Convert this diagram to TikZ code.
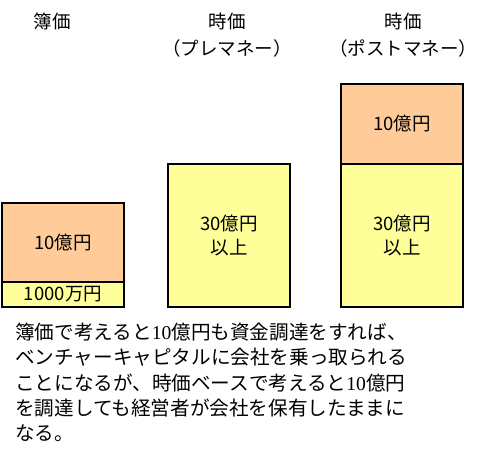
\documentclass[tikz,border=0pt]{standalone}
\usepackage{fontspec}
\setmainfont{Noto Sans CJK JP}
\newfontfamily\numfont{Liberation Serif}
\usepackage{tikz}
\usetikzlibrary{positioning}
\definecolor{raisedcol}{HTML}{FFCC99}
\definecolor{valuecol}{HTML}{FFFF99}

\begin{document}
\begin{tikzpicture}[
  x=1pt, y=-1pt,
  blk/.style 2 args={
    rectangle,
    draw=black,
    line width=2.2pt,
    fill=#2,
    minimum width=122pt,
    minimum height=#1,
    inner sep=0pt,
    outer sep=0pt,
    align=center,
    font=\fontsize{18.5}{24}\selectfont},
  ttl/.style={
    align=center,
    anchor=north,
    inner sep=0pt,
    font=\fontsize{18.5}{27}\selectfont},
]

  \useasboundingbox (0,0) rectangle (492,457);

  \def\colbase{307}%

  % Titles
  \node[ttl] (t_book) at (52,13) {簿価};
  \node[ttl] (t_pre) at (227,13) {時価\\（プレマネー）};
  \node[ttl] (t_post) at (403,13) {時価\\（ポストマネー）};

  % Book value
  \node[blk={25pt}{valuecol},anchor=south west] (book_cap) at (2,\colbase) {1000万円};
  \node[blk={79pt}{raisedcol},above=0pt of book_cap] (book_raise) {10億円};

  % Pre-money
  \node[blk={143pt}{valuecol},anchor=south west] (pre_val) at (168,\colbase) {30億円\\以上};

  % Post-money
  \node[blk={143pt}{valuecol},anchor=south west] (post_val) at (341,\colbase) {30億円\\以上};
  \node[blk={80pt}{raisedcol},above=0pt of post_val] (post_raise) {10億円};

  % Note
  \node[align=left,anchor=north west,inner sep=0pt,
        font=\fontsize{19.6}{25.3}\selectfont] (note) at (15,323)
    {簿価で考えると{\numfont 10}億円も資金調達をすれば、\\
     ベンチャーキャピタルに会社を乗っ取られる\\
     ことになるが、時価ベースで考えると{\numfont 10}億円\\
     を調達しても経営者が会社を保有したままに\\
     なる。};

\end{tikzpicture}
\end{document}
